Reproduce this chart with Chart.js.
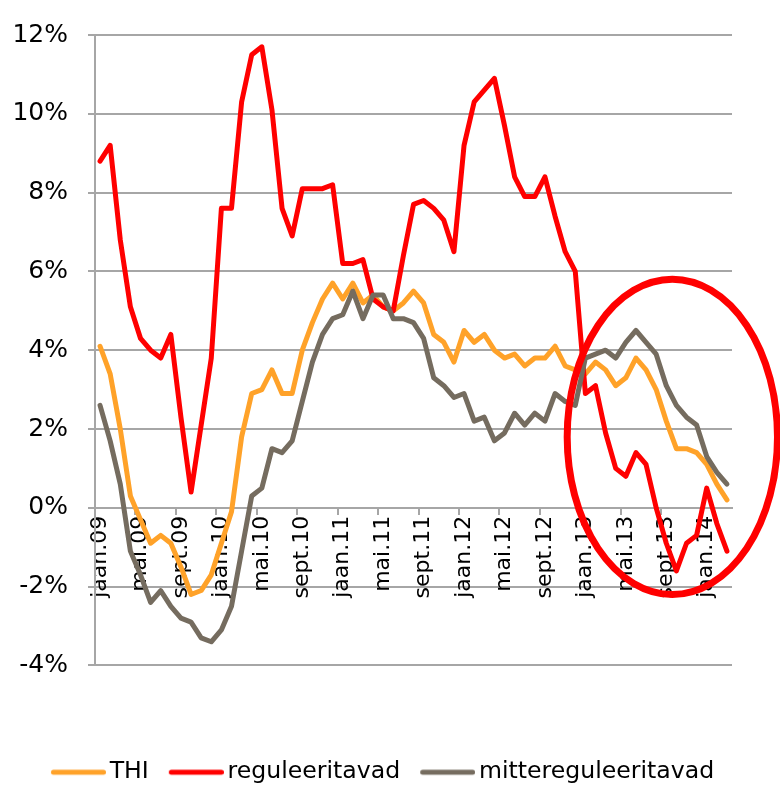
<!DOCTYPE html>
<html>
<head>
<meta charset="utf-8">
<script src="https://cdn.jsdelivr.net/npm/chart.js@4.4.1/dist/chart.umd.min.js"></script>
<style>
html,body{margin:0;padding:0;background:#fff}
</style>
</head>
<body>
<canvas id="chart" width="780" height="788"></canvas>
<script>
// month labels jaan.09 .. märts.14, only every 4th one is shown
const monthNames = ['jaan','veebr','märts','apr','mai','juuni','juuli','aug','sept','okt','nov','dets'];
const years = ['09','10','11','12','13','14'];
const labelEvery = 4;
const yTicks = [-4, -2, 0, 2, 4, 6, 8, 10, 12];

// THI
const thi = [4.1,3.4,2.0,0.3,-0.3,-0.9,-0.7,-0.9,-1.5,-2.2,-2.1,-1.7,
  -0.9,-0.1,1.8,2.9,3.0,3.5,2.9,2.9,4.0,4.7,5.3,5.7,
  5.3,5.7,5.2,5.4,5.1,5.0,5.2,5.5,5.2,4.4,4.2,3.7,
  4.5,4.2,4.4,4.0,3.8,3.9,3.6,3.8,3.8,4.1,3.6,3.5,
  3.4,3.7,3.5,3.1,3.3,3.8,3.5,3.0,2.2,1.5,1.5,1.4,
  1.1,0.6,0.2];
// reguleeritavad
const reg = [8.8,9.2,6.8,5.1,4.3,4.0,3.8,4.4,2.3,0.4,2.1,3.8,
  7.6,7.6,10.3,11.5,11.7,10.1,7.6,6.9,8.1,8.1,8.1,8.2,
  6.2,6.2,6.3,5.3,5.1,5.0,6.4,7.7,7.8,7.6,7.3,6.5,
  9.2,10.3,10.6,10.9,9.7,8.4,7.9,7.9,8.4,7.4,6.5,6.0,
  2.9,3.1,1.9,1.0,0.8,1.4,1.1,0.0,-0.9,-1.6,-0.9,-0.7,
  0.5,-0.4,-1.1];
// mittereguleeritavad
const mitte = [2.6,1.7,0.6,-1.1,-1.7,-2.4,-2.1,-2.5,-2.8,-2.9,-3.3,-3.4,
  -3.1,-2.5,-1.1,0.3,0.5,1.5,1.4,1.7,2.7,3.7,4.4,4.8,
  4.9,5.5,4.8,5.4,5.4,4.8,4.8,4.7,4.3,3.3,3.1,2.8,
  2.9,2.2,2.3,1.7,1.9,2.4,2.1,2.4,2.2,2.9,2.7,2.6,
  3.8,3.9,4.0,3.8,4.2,4.5,4.2,3.9,3.1,2.6,2.3,2.1,
  1.3,0.9,0.6];

const labels = thi.map((_, i) => monthNames[i % 12] + '.' + years[Math.floor(i / 12)]);

// red ring drawn over the last part: centre [month index, %], radii [months, %]
const ringAt = [56.6, 1.8];
const ringSize = [10.4, 4.0];

const FONT = 'DejaVu Sans';
const GRID = '#a6a6a6';
const LEG_BOX = 48, LEG_SHIFT = 8;

// legend swatch: a short thick line pushed to the right so it sits close to its text
function swatch(color) {
  const c = document.createElement('canvas');
  c.width = LEG_BOX + LEG_SHIFT * 2; c.height = 8;
  const g = c.getContext('2d');
  g.strokeStyle = color; g.lineWidth = 5; g.lineCap = 'round';
  g.beginPath(); g.moveTo(LEG_SHIFT + 3.5, 4); g.lineTo(c.width - 2.5, 4); g.stroke();
  return c;
}

const ring = {
  id: 'ring',
  afterDatasetsDraw(chart) {
    const {ctx, scales: {x, y}} = chart;
    const cx = x.getPixelForValue(ringAt[0]), cy = y.getPixelForValue(ringAt[1]);
    const rx = Math.abs(x.getPixelForValue(ringAt[0] + ringSize[0]) - cx);
    const ry = Math.abs(y.getPixelForValue(ringAt[1] + ringSize[1]) - cy);
    ctx.save();
    ctx.beginPath();
    ctx.ellipse(cx, cy, rx, ry, 0, 0, Math.PI * 2);
    ctx.lineWidth = 7; ctx.strokeStyle = '#ff0000'; ctx.stroke();
    ctx.restore();
  }
};

// push the legend down to the bottom edge and a bit right
const legendSpot = {
  id: 'legendSpot',
  afterLayout(chart) {
    const lg = chart.legend; if (!lg) return;
    const dy = 76, dx = 16;
    lg.top += dy; lg.bottom += dy; lg.left += dx; lg.right += dx;
  }
};

const line = (label, data, color, order) => ({
  label, data, order, borderColor: color, backgroundColor: color, borderWidth: 5,
  pointRadius: 0, pointStyle: swatch(color), tension: 0, borderJoinStyle: 'round', borderCapStyle: 'round'
});

new Chart(document.getElementById('chart').getContext('2d'), {
  type: 'line',
  data: {
    labels,
    datasets: [
      line('THI', thi, '#ffa229', 2),
      line('reguleeritavad', reg, '#ff0000', 1),
      line('mittereguleeritavad', mitte, '#756c5f', 0)
    ]
  },
  options: {
    responsive: false, animation: false,
    layout: {padding: {left: 0, top: 22, right: 48, bottom: 70}},
    plugins: {
      tooltip: {enabled: false},
      legend: {
        position: 'bottom',
        labels: {
          usePointStyle: true, pointStyleWidth: LEG_BOX, padding: 19, color: '#000',
          font: {family: FONT, size: 23.6},
          sort: (a, b) => a.datasetIndex - b.datasetIndex
        }
      }
    },
    scales: {
      x: {
        position: {y: 0}, offset: true,
        grid: {offset: true, drawOnChartArea: false, tickLength: 6, lineWidth: 2,
          color: c => c.index % labelEvery === 0 ? GRID : 'rgba(0,0,0,0)'},
        border: {color: GRID, width: 2},
        ticks: {autoSkip: false, minRotation: 90, maxRotation: 90, padding: 2, color: '#000',
          font: {family: FONT, size: 22},
          callback: (v, i) => i % labelEvery === 0 ? labels[i] : ''}
      },
      y: {
        min: yTicks[0], max: yTicks[yTicks.length - 1],
        afterFit: s => { s.width = 95; },
        afterBuildTicks: s => { s.ticks = yTicks.map(v => ({value: v})); },
        grid: {color: GRID, lineWidth: 2, tickLength: 7},
        border: {color: GRID, width: 2},
        ticks: {padding: 20, color: '#000', font: {family: FONT, size: 25}, callback: v => v + '%'}
      }
    }
  },
  plugins: [ring, legendSpot]
});
</script>
</body>
</html>
